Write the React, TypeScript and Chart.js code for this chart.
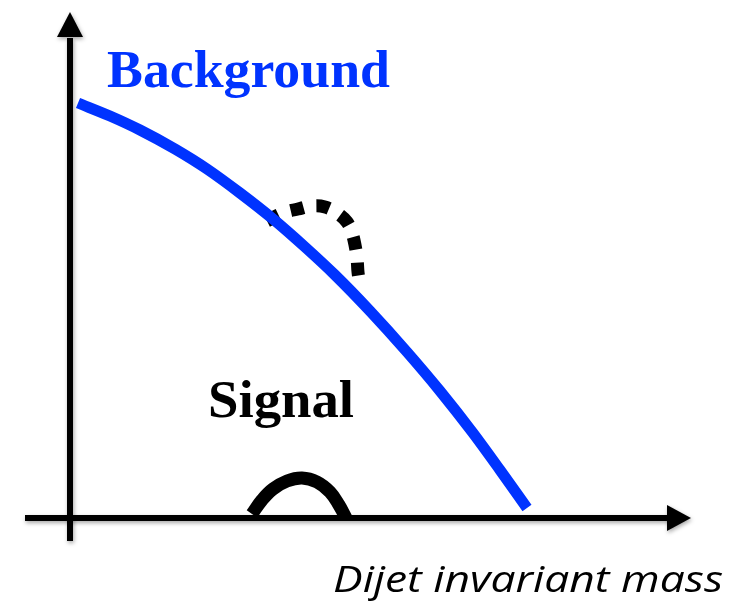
import React, { useEffect, useRef } from 'react';
import { Chart, registerables } from 'chart.js';

Chart.register(...registerables);

// Background spectrum (falling dijet mass distribution)
const backgroundMass = [8, 40, 70, 105, 137, 170, 203, 235, 265, 300, 337, 370, 403, 430, 457];
const backgroundCount = [415, 402, 388, 369, 349, 325, 299, 271, 243, 207, 166, 127, 85, 48, 10];

// Signal bump at the bottom
const signalMass = [182, 192, 203, 217, 232, 247, 260, 269, 276];
const signalCount = [4, 18, 29, 37, 40, 36, 26, 13, 0];

// Signal on top of background (dashed excess)
const excessMass = [197, 213, 228, 242, 255, 267, 277, 282, 285, 287, 288, 289];
const excessCount = [297, 305, 309, 312, 311, 305, 296, 285, 273, 260, 246, 239];

const seriesLabels = ['Background', 'Signal', 'Signal + background'];
const axisTitle = 'Dijet invariant mass';

const BLUE = '#0033ff';

const toPoints = (xs: number[], ys: number[]) => xs.map((x, i) => ({ x, y: ys[i] }));

const axesPlugin = {
  id: 'arrowAxes',
  beforeDatasetsDraw(chart: any) {
    const { ctx, scales } = chart;
    const sx = scales.x;
    const sy = scales.y;
    const X = (v: number) => sx.getPixelForValue(v);
    const Y = (v: number) => sy.getPixelForValue(v);
    const x0 = X(0);
    const y0 = Y(0);
    ctx.save();
    ctx.shadowColor = 'rgba(0,0,0,0.35)';
    ctx.shadowBlur = 4;
    ctx.shadowOffsetX = 1;
    ctx.shadowOffsetY = 2;
    ctx.strokeStyle = '#000';
    ctx.fillStyle = '#000';
    ctx.lineWidth = 6;
    ctx.lineCap = 'butt';
    // horizontal axis
    ctx.beginPath();
    ctx.moveTo(X(-45), y0);
    ctx.lineTo(X(600), y0);
    ctx.stroke();
    // vertical axis
    ctx.beginPath();
    ctx.moveTo(x0, Y(-23));
    ctx.lineTo(x0, Y(480));
    ctx.stroke();
    // arrow heads
    ctx.beginPath();
    ctx.moveTo(X(621), y0);
    ctx.lineTo(X(597), y0 - 13);
    ctx.lineTo(X(597), y0 + 13);
    ctx.closePath();
    ctx.fill();
    ctx.beginPath();
    ctx.moveTo(x0, Y(506));
    ctx.lineTo(x0 - 13, Y(481));
    ctx.lineTo(x0 + 13, Y(481));
    ctx.closePath();
    ctx.fill();
    ctx.restore();
  },
};

const labelPlugin = {
  id: 'sketchLabels',
  afterDatasetsDraw(chart: any) {
    const { ctx, scales } = chart;
    const X = (v: number) => scales.x.getPixelForValue(v);
    const Y = (v: number) => scales.y.getPixelForValue(v);
    ctx.save();
    ctx.textBaseline = 'alphabetic';
    ctx.textAlign = 'left';
    const drawFit = (text: string, left: number, base: number, width: number, font: string, color: string) => {
      ctx.font = font;
      ctx.fillStyle = color;
      const w = ctx.measureText(text).width;
      ctx.save();
      ctx.translate(left, base);
      ctx.scale(width / w, 1);
      ctx.fillText(text, 0, 0);
      ctx.restore();
    };
    drawFit(seriesLabels[0], X(37), Y(431), 283, 'bold 53px "Liberation Serif"', BLUE);
    drawFit(seriesLabels[1], X(138), Y(101), 146, 'bold 52px "Liberation Serif"', '#000');
    drawFit(axisTitle, X(263), Y(-74), 390, 'italic 36px "Open Sans"', '#000');
    ctx.restore();
  },
};

export default function App() {
  const canvasRef = useRef<HTMLCanvasElement | null>(null);

  useEffect(() => {
    const canvas = canvasRef.current;
    if (!canvas) return;
    const chart = new Chart(canvas, {
      type: 'line',
      data: {
        datasets: [
          {
            label: seriesLabels[0],
            data: toPoints(backgroundMass, backgroundCount),
            borderColor: BLUE,
            borderWidth: 11,
            borderCapStyle: 'butt',
            pointRadius: 0,
            cubicInterpolationMode: 'monotone',
            fill: false,
          },
          {
            label: seriesLabels[2],
            data: toPoints(excessMass, excessCount),
            borderColor: '#000',
            borderWidth: 13,
            borderDash: [13, 13],
            borderCapStyle: 'butt',
            pointRadius: 0,
            tension: 0.4,
            fill: false,
          },
          {
            label: seriesLabels[1],
            data: toPoints(signalMass, signalCount),
            borderColor: '#000',
            borderWidth: 13,
            borderCapStyle: 'butt',
            pointRadius: 0,
            tension: 0.4,
            fill: false,
          },
        ],
      },
      options: {
        animation: false,
        responsive: true,
        maintainAspectRatio: false,
        layout: { padding: 0 },
        events: [],
        scales: {
          x: { type: 'linear', min: -70, max: 660, display: false },
          y: { type: 'linear', min: -89, max: 518, display: false },
        },
        plugins: {
          legend: { display: false },
          tooltip: { enabled: false },
          title: { display: false },
        },
      },
      plugins: [axesPlugin, labelPlugin],
    });
    return () => chart.destroy();
  }, []);

  return (
    <div style={{ position: 'absolute', left: 0, top: 0, width: 730, height: 607, background: '#fff' }}>
      <canvas ref={canvasRef} />
    </div>
  );
}
